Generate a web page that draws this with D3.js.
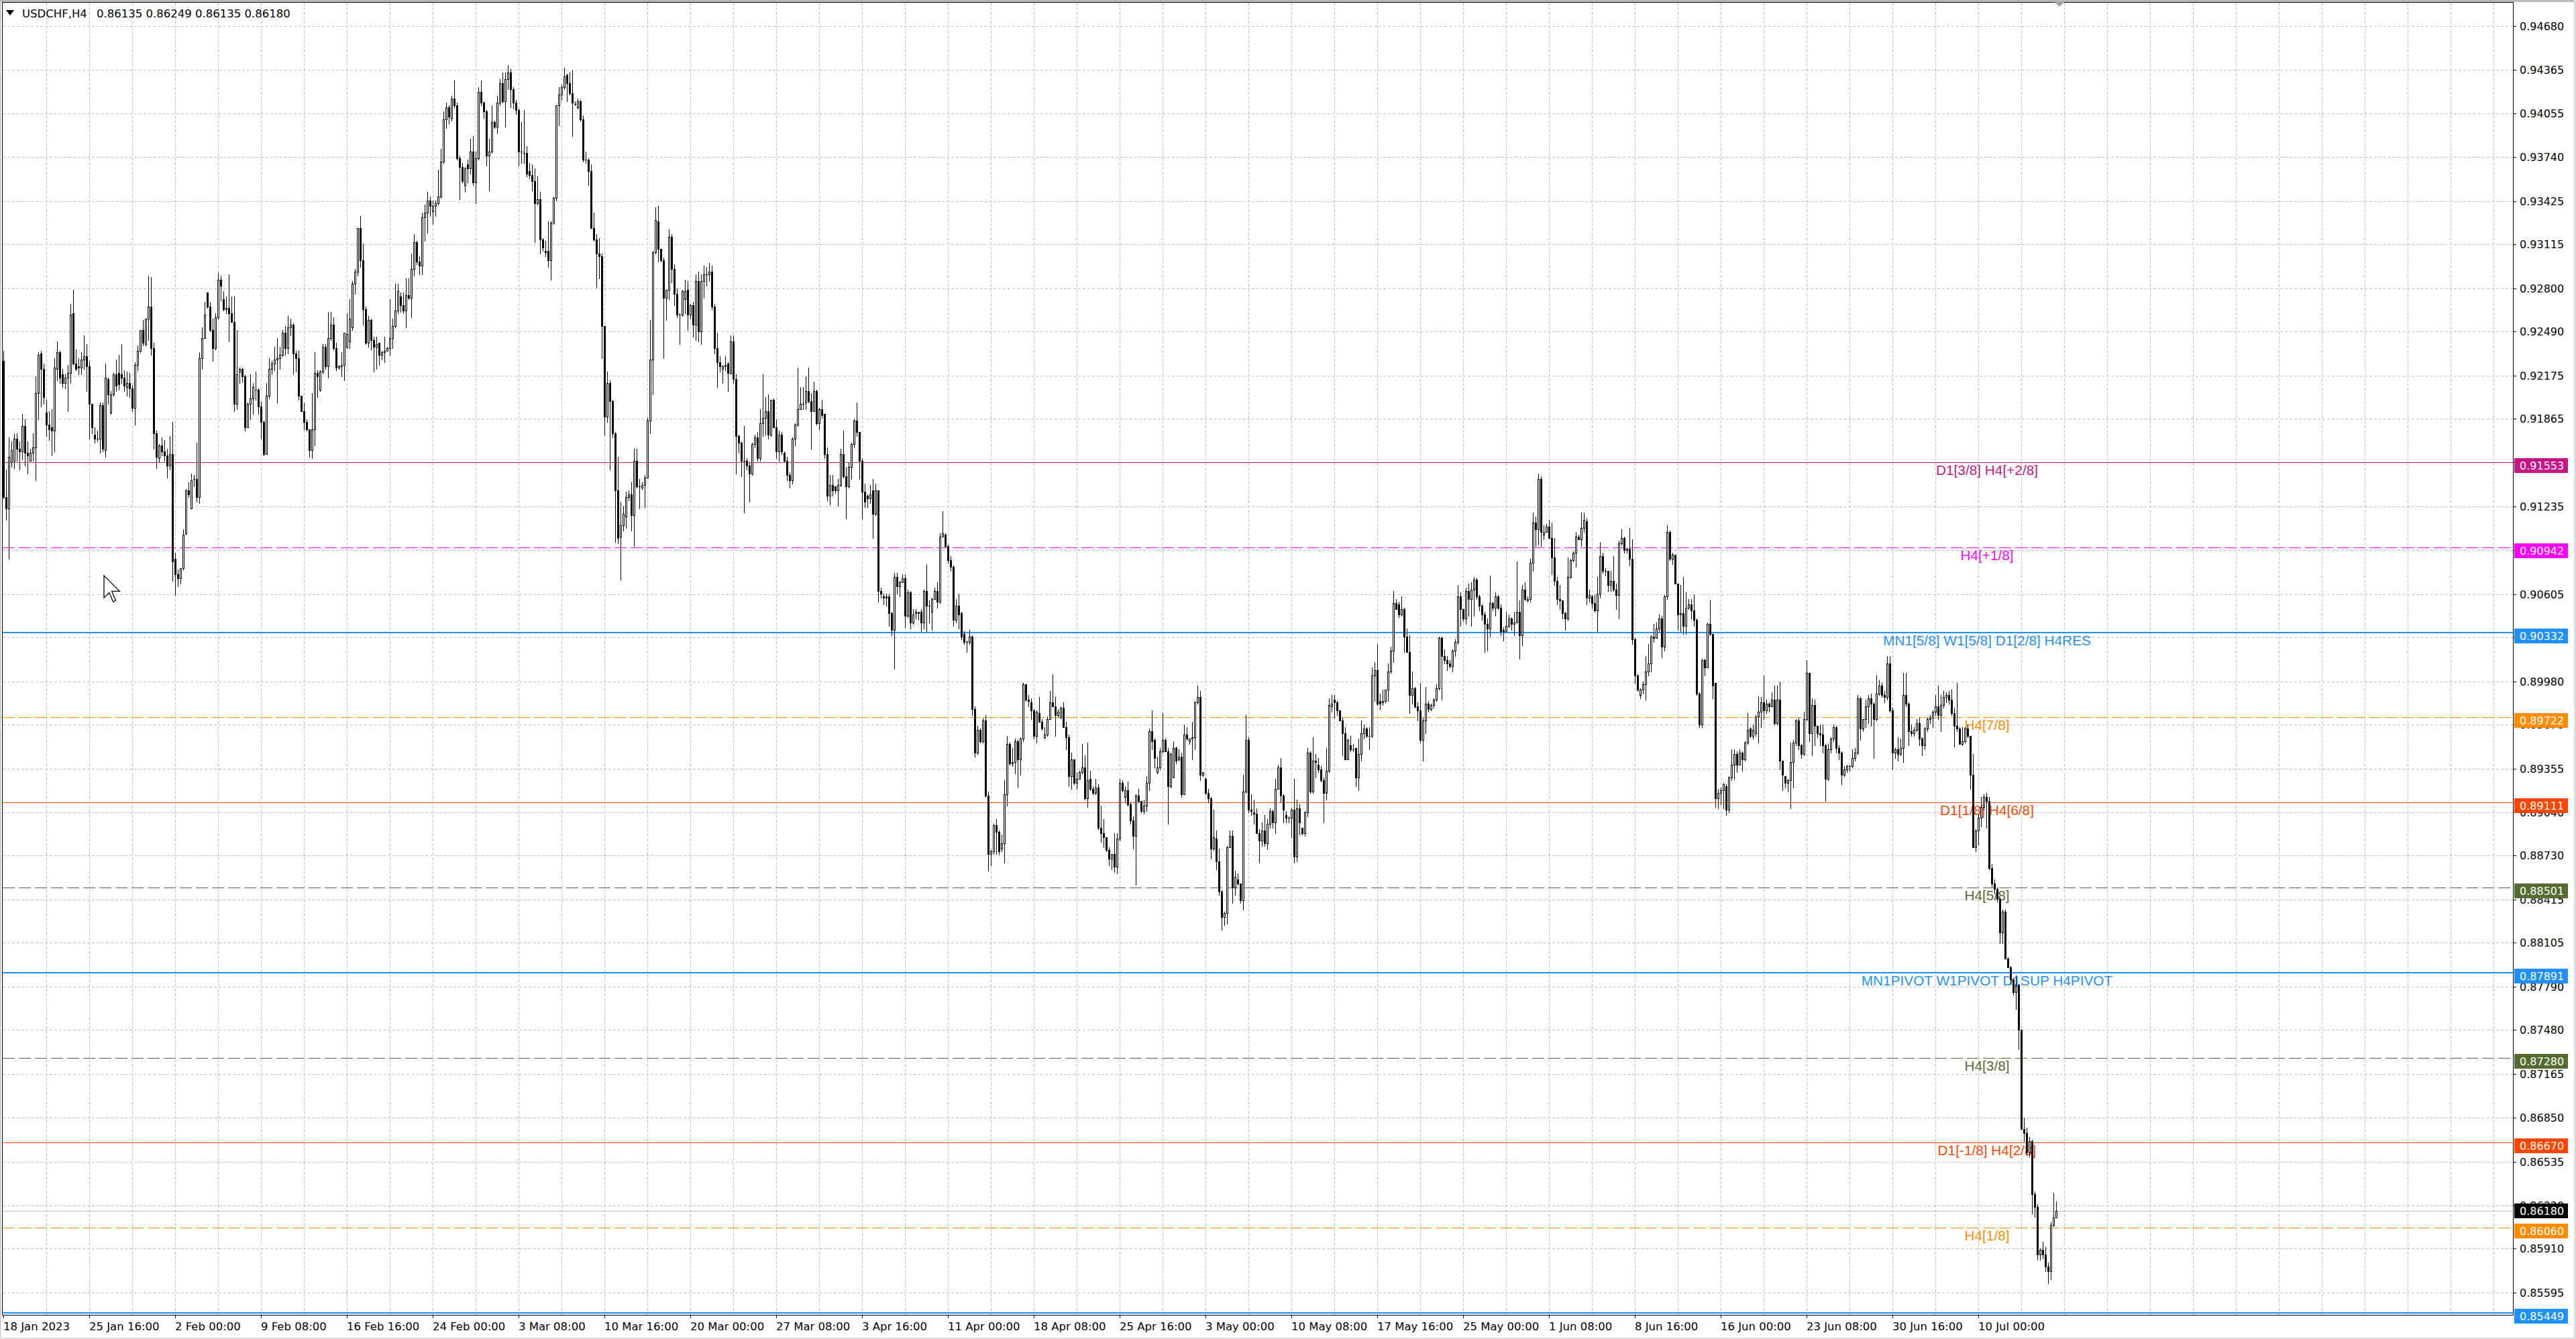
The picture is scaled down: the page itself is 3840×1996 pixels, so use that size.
<!DOCTYPE html>
<html><head><meta charset="utf-8">
<script src="https://cdn.jsdelivr.net/npm/d3@7/dist/d3.min.js"></script>
<style>html,body{margin:0;padding:0;background:#fff;overflow:hidden}</style>
</head><body>
<script>
// ===================== DATA =====================
// USDCHF H4 candles, prices in pips (1 pip = 0.0001 CHF), bar 0 = 18 Jan 2023 08:00
const PIP = 1e-4;
const symbol = "USDCHF,H4";
const headerValues = [0.86135, 0.86249, 0.86135, 0.86180];

const openPips = [
9228,9130,9122,9155,9156,9172,9165,9163,9181,9162,
9156,9162,9166,9205,9233,9222,9191,9182,9180,9178,
9222,9234,9218,9212,9216,9219,9262,9226,9224,9223,
9229,9231,9224,9197,9175,9172,9172,9196,9164,9215,
9191,9204,9218,9219,9218,9216,9209,9212,9208,9194,
9225,9235,9250,9240,9258,9267,9237,9176,9158,9167,
9163,9160,9153,9161,9086,9075,9072,9079,9104,9135,
9122,9143,9143,9130,9230,9244,9277,9267,9250,9237,
9259,9286,9272,9265,9266,9262,9256,9197,9220,9222,
9217,9180,9197,9201,9207,9207,9195,9184,9161,9203,
9222,9226,9229,9230,9232,9248,9237,9252,9254,9233,
9230,9203,9192,9184,9179,9164,9179,9219,9207,9220,
9238,9224,9244,9254,9237,9223,9224,
9225,9238,9242,
9252,9283,9292,9323,9300,9265,9241,9257,9243,9238,
9241,9232,9234,9235,9237,9244,9253,9264,9274,9268,
9264,9275,9273,9294,9313,9299,9296,9331,9334,9343,
9335,9339,9341,9346,9371,9401,9410,9402,9416,9411,
9373,9367,9354,9369,9366,9378,9356,9373,9421,9413,
9407,9375,9378,9399,9396,9413,9427,9414,9430,9435,
9423,9413,9408,9378,9377,9377,9364,9361,9357,9341,
9344,9315,9307,9307,9300,9327,9345,9411,9419,9424,
9433,9427,9420,9412,9410,9414,9401,9372,9372,9364,
9323,9315,9305,9303,9253,9188,9212,9199,9176,9135,
9102,9110,9116,9130,9132,9117,9156,9138,9137,9139,
9144,9185,9229,9306,9328,9308,9300,9273,9279,9317,
9294,9276,9261,9261,9272,
9279,9261,9268,9254,9285,
9249,9285,9290,9290,9292,9267,9237,9227,9222,9224,
9226,9219,9242,9215,9174,9169,9156,9156,9153,9147,
9168,9173,9158,9183,9187,9192,9175,9200,9180,9163,
9175,9162,9156,9146,9142,9172,9182,9193,9197,9198,
9206,9199,9192,9206,9183,9193,9190,9161,9131,9139,
9138,9135,9139,9161,9145,9138,9152,9168,9185,9177,
9156,9134,9131,9129,9135,9118,9135,9063,9059,9058,
9059,9047,9035,9073,9066,9069,9072,9045,9062,9040,
9047,9048,9048,9040,9063,9052,9048,9057,9063,9055,
9102,9103,9095,9085,9080,9042,9052,9047,9032,9026,
9026,9030,8978,8947,8963,8955,8970,8916,8874,8876,
8895,8890,8878,8882,8917,8953,8939,8940,8955,8942,
8957,8996,8985,
8983,8977,8959,8975,8969,8958,8960,
8971,8983,8980,8974,8972,8979,8965,8958,8930,8942,
8925,8928,8933,8936,8914,8928,8921,8918,8922,8893,
8889,8886,8877,8871,8874,8865,8885,8925,8915,8920,
8910,8898,8887,8916,8912,8905,8909,8925,8962,8956,
8933,8936,8948,8956,8948,8923,8929,8950,8942,8944,
8917,8960,8955,8957,8958,8983,8987,8931,8928,8918,
8914,8878,8885,8869,8847,8829,8832,8879,8887,8850,
8856,8853,8841,8919,8956,8906,8904,8903,8889,8884,
8891,8882,8896,8905,8897,8921,8936,8916,8902,8900,
8900,8906,8872,8907,8893,8889,8904,8947,8919,8941,
8938,8935,8927,8918,8934,8980,8985,8983,8977,8970,
8961,8942,8952,8949,8950,8929,8946,8961,8964,8959,
8959,
9002,9006,8984,8983,8984,8992,9005,9020,9054,
9053,9046,9050,9030,9019,8988,8993,8980,8977,8956,
8970,8982,8978,8981,8985,8993,9029,9016,9013,9011,
9009,9020,9026,9059,9050,9043,9063,9057,9064,9071,
9059,9052,9046,9039,9036,9054,9051,9059,9051,9035,
9034,9038,9043,9039,9040,9048,9031,9064,9056,9057,
9083,9112,9107,9143,9103,9105,9109,9101,9087,9070,
9057,9056,9047,9043,9073,9085,9090,9102,9100,9108,
9113,9058,9059,9054,9049,9061,9088,9077,9077,9067,
9070,9064,9060,9097,9101,9092,9093,9086,9028,9002,
8988,8992,8996,9005,9011,9030,9029,9036,9043,9023,
9059,9105,9086,9089,9068,9046,9047,9038,9051,9053,
9049,9042,8989,8967,9013,9008,9039,9032,8997,
8914,8918,8920,8923,8906,8929,8938,8946,8938,8947,8942,
8954,8964,8959,8961,8973,8976,8983,8977,8982,8980,
8985,8968,8985,8941,8930,8925,8927,8940,8954,8970,
8952,8946,8971,9004,8961,8981,8966,8961,8960,8952,
8928,8949,8957,8965,8950,8947,8931,8935,8937,8937,
8943,8947,8986,8964,8971,8980,8986,8982,8971,8989,
8995,8988,8987,9011,8977,8947,8949,8946,8950,8988,
8982,8962,8961,8963,8968,8957,8952,8964,8971,8972,
8976,8980,8974,8981,8987,8988,8985,8975,8966,8964,
8953,8955,8964,8959,8931,8879,8891,8900,8908,8915,
8912,8864,8853,8849,8842,8818,8833,8799,8793,8784,
8775,8780,8748,8677,8674,8660,8668,8630,8621,8587,
8590,8587,8578,8575,8608,8613.5
];

const highPips = [
9235,9150,9173,9170,9176,9176,9170,9190,9186,9170,
9165,9176,9217,9234,9235,9226,9200,9192,9193,9230,
9242,9235,9222,9218,9225,9269,9279,9236,9230,9234,
9246,9240,9228,9197,9180,9178,9198,9198,9226,9216,
9206,9219,9229,9232,9240,9221,9220,9219,9210,9227,
9239,9250,9257,9258,9289,9288,9241,9178,9168,9173,
9171,9165,9174,9184,9090,9078,9079,9107,9136,9141,
9147,9146,9169,9234,9252,9270,9277,9270,9258,9262,
9291,9289,9278,9274,9290,9274,9274,9250,9223,9223,
9218,9198,9218,9212,9220,9208,9199,9185,9212,9230,
9228,9238,9244,9238,9250,9253,9260,9258,9255,9235,
9235,9203,9198,9186,9179,9205,9234,9221,9221,9240,
9240,9263,9263,9259,9241,9225,9234,
9248,9262,9272,
9285,9294,9323,9332,9312,9267,9260,9258,9245,9245,
9241,9235,9245,9238,9272,9258,9283,9283,9277,9277,
9287,9287,9305,9319,9314,9303,9334,9340,9349,9346,
9343,9343,9365,9380,9407,9413,9411,9418,9429,9413,
9375,9370,9367,9372,9387,9389,9378,9424,9429,9414,
9408,9387,9411,9400,9418,9430,9435,9435,9440,9437,
9424,9415,9409,9399,9408,9382,9370,9369,9366,9360,
9349,9316,9314,9328,9328,9346,9411,9424,9426,9438,
9434,9435,9436,9414,9416,9415,9404,9378,9373,9369,
9334,9319,9316,9305,9253,9220,9214,9200,9177,9159,
9127,9124,9134,9135,9141,9165,9165,9143,9141,9146,
9187,9257,9307,9338,9339,9308,9302,9279,9322,9319,
9297,9280,9262,9279,9286,
9285,9269,9270,9290,9292,
9290,9296,9295,9298,9296,9269,9248,9231,9225,9231,
9227,9246,9246,9218,9175,9170,9181,9158,9155,9169,
9175,9177,9193,9218,9202,9204,9200,9201,9186,9178,
9177,9163,9159,9148,9173,9183,9223,9209,9209,9217,
9223,9205,9213,9207,9194,9200,9190,9166,9146,9146,
9138,9143,9165,9178,9152,9155,9169,9186,9198,9177,
9158,9140,9132,9139,9143,9140,9135,9065,9061,9061,
9061,9048,9076,9076,9070,9075,9075,9064,9063,9050,
9050,9048,9050,9064,9082,9056,9058,9065,9069,9104,
9120,9104,9096,9088,9081,9057,9061,9048,9034,9027,
9035,9031,8980,8966,8964,8972,8974,8919,8877,8896,
8899,8891,8888,8927,8959,8954,8950,8957,8956,8958,
8997,8996,8988,
8986,8978,8977,8987,8971,8965,8973,
8991,9003,8987,8978,8980,8983,8969,8960,8947,8942,
8933,8934,8953,8945,8954,8934,8923,8928,8924,8909,
8899,8886,8879,8874,8889,8889,8928,8927,8923,8926,
8911,8901,8917,8921,8912,8913,8930,8964,8977,8957,
8944,8950,8975,8957,8950,8947,8955,8951,8949,8947,
8967,8965,8957,8969,8984,8995,8991,8933,8929,8921,
8915,8906,8891,8878,8848,8833,8880,8891,8891,8862,
8860,8853,8931,8974,8958,8917,8913,8907,8892,8897,
8902,8899,8907,8906,8928,8938,8943,8917,8905,8901,
8907,8928,8913,8910,8893,8905,8950,8948,8958,8946,
8943,8937,8929,8950,8986,8988,8988,8984,8977,8972,
8965,8957,8959,8953,8950,8957,8970,8967,8965,8965,
9008,
9012,9025,8989,8992,8992,9011,9023,9063,9057,
9055,9059,9051,9036,9031,9005,8994,8983,8997,8972,
8994,8984,8982,8986,8996,9030,9030,9021,9016,9013,
9021,9028,9067,9062,9050,9065,9068,9069,9073,9072,
9060,9053,9048,9043,9074,9055,9062,9060,9053,9037,
9048,9046,9044,9048,9084,9056,9067,9069,9059,9086,
9119,9116,9147,9145,9110,9111,9114,9112,9101,9073,
9067,9056,9048,9087,9086,9091,9105,9103,9119,9119,
9115,9064,9060,9060,9073,9098,9090,9079,9077,9077,
9088,9068,9099,9107,9102,9094,9108,9100,9029,9003,
8993,8998,9016,9025,9031,9039,9040,9046,9045,9060,
9110,9106,9090,9089,9068,9067,9073,9062,9057,9057,
9060,9043,8990,9014,9014,9040,9056,9032,8997,
8921,8922,8925,8924,8930,8949,8949,8948,8949,8948,8955,
8975,8965,8967,8974,8987,8987,9002,8985,8983,8990,
8995,8995,8998,8941,8930,8928,8954,8956,8971,8972,
8953,8976,9013,9004,8986,8985,8965,8967,8967,8953,
8953,8958,8967,8966,8952,8948,8937,8938,8938,8949,
8950,8988,8987,8971,8985,8988,8989,8983,9002,8999,
8997,8991,9016,9016,8979,8950,8958,8957,9004,9004,
8983,8967,8965,8971,8972,8958,8965,8972,8974,8977,
8988,8995,8988,8991,8990,8991,8992,8979,8997,8965,
8965,8965,8967,8959,8946,8892,8903,8915,8917,8918,
8915,8867,8856,8850,8843,8834,8834,8800,8794,8785,
8787,8781,8748,8685,8678,8671,8669,8632,8623,8591,
8596,8592,8581,8610,8631,8624.9
];

const lowPips = [
9129,9114,9086,9152,9151,9156,9150,9157,9153,9147,
9156,9156,9142,9186,9195,9197,9174,9171,9160,9163,
9214,9212,9209,9208,9192,9212,9225,9221,9218,9218,
9222,9206,9172,9176,9169,9170,9162,9163,9159,9197,
9190,9203,9206,9207,9212,9206,9203,9202,9192,9182,
9221,9234,9239,9239,9243,9232,9165,9151,9155,9160,
9156,9144,9150,9070,9060,9066,9068,9078,9103,9130,
9122,9138,9127,9126,9222,9244,9266,9249,9228,9236,
9258,9271,9264,9262,9242,9256,9192,9193,9212,9213,
9178,9180,9186,9190,9200,9190,9172,9160,9161,9201,
9218,9221,9198,9222,9231,9232,9233,9246,9218,9220,
9200,9192,9179,9178,9159,9158,9167,9202,9206,9219,
9222,9216,9243,9236,9221,9222,9217,
9214,9237,9237,
9250,9276,9289,9295,9254,9240,9238,9236,9220,9222,
9225,9229,9227,9235,9232,9237,9252,9262,9263,9262,
9252,9272,9259,9289,9297,9290,9290,9314,9320,9332,
9326,9332,9340,9345,9370,9395,9398,9400,9410,9372,
9344,9356,9349,9356,9362,9354,9341,9372,9411,9402,
9368,9350,9377,9395,9391,9411,9413,9396,9423,9410,
9409,9405,9368,9370,9370,9360,9359,9350,9313,9340,
9305,9307,9303,9295,9286,9326,9343,9397,9415,9423,
9414,9419,9389,9411,9409,9400,9371,9370,9354,9323,
9314,9281,9287,9230,9175,9184,9150,9173,9098,9097,
9071,9106,9108,9128,9106,9095,9137,9122,9136,9123,
9144,9176,9204,9305,9299,9299,9230,9257,9272,9284,
9268,9259,9240,9260,9262,
9250,9258,9245,9243,9242,
9240,9273,9282,9285,9265,9233,9209,9220,9212,9221,
9206,9218,9212,9147,9162,9145,9119,9150,9127,9146,
9166,9156,9156,9174,9175,9172,9174,9180,9158,9156,
9161,9155,9142,9137,9140,9167,9181,9193,9193,9193,
9198,9165,9192,9182,9179,9187,9158,9128,9125,9131,
9133,9124,9138,9144,9115,9137,9143,9166,9174,9143,
9115,9123,9123,9126,9101,9117,9055,9058,9053,9052,
9038,9031,9007,9061,9059,9069,9037,9044,9036,9039,
9043,9042,9034,9036,9034,9040,9035,9057,9051,9054,
9102,9094,9083,9077,9038,9040,9036,9028,9025,9019,
9025,8974,8944,8946,8954,8954,8915,8862,8866,8874,
8874,8874,8876,8868,8909,8938,8937,8932,8922,8931,
8955,8984,8980,
8971,8957,8954,8969,8963,8957,8959,
8971,8980,8959,8973,8972,8965,8949,8923,8921,8924,
8921,8928,8932,8913,8908,8920,8917,8917,8892,8883,
8879,8876,8866,8863,8861,8860,8884,8919,8911,8909,
8896,8878,8852,8911,8904,8903,8905,8920,8949,8936,
8932,8935,8947,8948,8896,8922,8929,8939,8941,8915,
8917,8956,8953,8942,8949,8982,8927,8930,8917,8911,
8871,8877,8863,8845,8820,8823,8824,8879,8839,8845,
8852,8839,8834,8918,8904,8902,8896,8889,8868,8880,
8880,8878,8893,8893,8889,8921,8911,8897,8897,8897,
8886,8868,8869,8888,8888,8887,8901,8918,8918,8929,
8933,8926,8897,8913,8933,8976,8972,8974,8970,8945,
8942,8942,8948,8948,8923,8920,8941,8957,8958,8949,
8958,
8984,8981,8978,8981,8983,8984,9004,9012,9050,
9044,9045,9019,9019,8975,8982,8979,8970,8954,8941,
8961,8976,8977,8979,8984,8992,8985,9011,9006,9008,
9005,9016,9025,9038,9041,9039,9045,9038,9045,9057,
9049,9042,9019,9020,9030,9049,9045,9050,9031,9027,
9034,9037,9035,9031,9040,9014,9024,9056,9055,9055,
9077,9095,9096,9095,9100,9105,9101,9075,9067,9053,
9050,9043,9035,9042,9072,9084,9080,9100,9095,9105,
9053,9055,9051,9048,9034,9058,9076,9074,9063,9063,
9063,9050,9043,9096,9090,9090,9081,9025,8997,8991,
8986,8989,8985,9002,9005,9026,9029,9034,9015,9020,
9057,9085,9082,9068,9035,9034,9032,9032,9050,9043,
9038,8988,8965,8965,9002,9008,9031,8986,8908,
8907,8910,8907,8902,8904,8927,8928,8933,8940,8934,8941,
8953,8958,8957,8959,8954,8965,8971,8975,8976,8980,
8967,8967,8935,8920,8922,8919,8907,8922,8952,8949,
8943,8945,8970,8955,8945,8952,8958,8952,8947,8912,
8927,8947,8955,8947,8942,8924,8930,8933,8934,8936,
8941,8946,8956,8962,8965,8968,8966,8943,8970,8988,
8987,8983,8985,8976,8935,8943,8941,8945,8940,8980,
8952,8959,8959,8962,8952,8945,8949,8962,8968,8965,
8974,8971,8962,8979,8983,8982,8974,8951,8962,8953,
8952,8954,8958,8921,8879,8876,8881,8894,8906,8893,
8863,8851,8846,8840,8810,8810,8799,8793,8781,8773,
8763,8734,8677,8668,8658,8657,8616,8614,8583,8583,
8584,8575,8566,8569,8607,8613.5
];

const closePips = [
9130,9122,9159,9164,9172,9165,9163,9181,9162,9160,
9162,9166,9205,9232,9222,9202,9182,9179,9178,9223,
9234,9216,9212,9216,9219,9261,9226,9222,9223,9229,
9231,9224,9197,9180,9172,9172,9196,9165,9216,9204,
9204,9218,9210,9211,9216,9210,9212,9208,9194,9225,
9235,9250,9241,9258,9267,9237,9176,9159,9167,9163,
9160,9153,9161,9084,9075,9072,9079,9103,9135,9132,
9142,9143,9130,9230,9244,9261,9267,9250,9237,9259,
9286,9282,9265,9266,9262,9256,9197,9218,9222,9217,
9180,9197,9201,9209,9207,9195,9184,9161,9203,9222,
9226,9229,9230,9232,9248,9237,9252,9254,9233,9230,
9203,9192,9184,9179,9164,9179,9219,9217,9220,9238,
9224,9244,9254,9237,9223,9224,9225,
9248,9247,9258,
9283,9292,9323,9300,9265,9241,9257,9243,9238,9240,
9232,9234,9235,9237,9244,9253,9264,9278,9268,9264,
9275,9273,9294,9313,9299,9296,9331,9334,9343,9339,
9339,9341,9346,9371,9401,9410,9403,9416,9411,9373,
9367,9357,9366,9366,9378,9356,9373,9421,9413,9407,
9375,9378,9399,9396,9413,9427,9414,9430,9435,9423,
9413,9408,9378,9378,9377,9362,9361,9357,9341,9344,
9315,9309,9306,9300,9327,9345,9411,9419,9424,9432,
9427,9420,9413,9412,9414,9401,9372,9372,9364,9323,
9315,9305,9303,9253,9188,9212,9199,9176,9135,9101,
9110,9118,9130,9132,9117,9156,9138,9138,9139,9144,
9185,9229,9306,9329,9308,9300,9273,9279,9317,9294,
9276,9261,9261,9278,9278,
9261,9268,9254,9285,9249,
9285,9290,9290,9292,9267,9237,9227,9224,9224,9225,
9219,9242,9215,9174,9169,9156,9156,9153,9147,9168,
9173,9158,9183,9187,9192,9175,9200,9180,9163,9175,
9163,9156,9146,9142,9172,9182,9193,9197,9197,9206,
9199,9192,9206,9183,9193,9189,9161,9131,9139,9135,
9135,9139,9161,9145,9138,9152,9168,9185,9177,9156,
9134,9127,9129,9132,9118,9135,9063,9061,9058,9059,
9047,9035,9073,9066,9069,9072,9045,9062,9040,9046,
9048,9047,9040,9063,9052,9052,9057,9063,9055,9102,
9104,9095,9085,9080,9042,9052,9046,9030,9026,9026,
9030,8978,8947,8963,8955,8970,8916,8874,8876,8895,
8890,8876,8882,8917,8953,8939,8940,8955,8942,8957,
8996,8985,8984,
8977,8959,8976,8969,8964,8960,8971,
8983,8980,8974,8976,8979,8965,8958,8930,8942,8925,
8928,8933,8936,8914,8927,8921,8918,8922,8893,8889,
8886,8877,8871,8874,8865,8885,8925,8920,8920,8910,
8898,8887,8916,8912,8905,8909,8925,8962,8955,8943,
8936,8948,8956,8948,8923,8946,8950,8941,8944,8917,
8960,8957,8957,8958,8983,8987,8931,8933,8918,8914,
8878,8886,8869,8847,8829,8832,8879,8887,8850,8858,
8853,8841,8919,8956,8906,8905,8903,8889,8884,8891,
8882,8896,8905,8897,8921,8936,8916,8906,8900,8900,
8906,8872,8907,8897,8889,8904,8947,8919,8941,8940,
8935,8927,8918,8934,8981,8982,8983,8977,8970,8961,
8942,8956,8949,8949,8929,8946,8961,8964,8959,8959,
9002,
9006,8982,8982,8984,8992,9005,9020,9054,9050,
9046,9050,9030,9019,8988,8993,8980,8977,8956,8970,
8982,8978,8981,8985,8993,9029,9016,9013,9011,9009,
9020,9026,9059,9050,9043,9063,9057,9064,9071,9059,
9052,9046,9039,9036,9054,9051,9059,9051,9034,9034,
9038,9043,9039,9040,9048,9031,9064,9057,9057,9083,
9112,9107,9143,9105,9105,9109,9101,9087,9070,9057,
9056,9047,9043,9073,9085,9090,9102,9100,9108,9114,
9058,9060,9054,9049,9061,9088,9077,9077,9067,9070,
9064,9060,9097,9101,9092,9093,9086,9028,9002,8992,
8992,8996,9005,9011,9030,9029,9036,9043,9023,9059,
9105,9086,9089,9068,9046,9047,9038,9051,9053,9049,
9042,8989,8967,9013,9008,9039,9032,8995,8914,
8918,8920,8924,8906,8929,8938,8946,8938,8947,8942,8954,
8963,8959,8963,8973,8976,8983,8977,8982,8980,8985,
8968,8985,8941,8931,8925,8927,8940,8954,8970,8952,
8946,8971,9004,8961,8981,8966,8961,8960,8952,8928,
8949,8957,8965,8950,8947,8931,8935,8937,8937,8943,
8947,8986,8964,8971,8980,8986,8982,8971,8989,8995,
8988,8987,9011,8977,8947,8949,8946,8950,8988,8982,
8962,8961,8963,8968,8957,8952,8964,8971,8972,8976,
8980,8974,8981,8987,8988,8985,8975,8966,8964,8953,
8955,8964,8959,8931,8879,8891,8900,8908,8915,8912,
8864,8853,8849,8842,8818,8833,8799,8793,8784,8775,
8780,8748,8677,8674,8660,8668,8630,8621,8587,8590,
8587,8578,8575,8608,8613.5,8618
];

// time-axis labels and the bar index they mark
const timeLabels = ["18 Jan 2023","25 Jan 16:00","2 Feb 00:00","9 Feb 08:00","16 Feb 16:00","24 Feb 00:00",
  "3 Mar 08:00","10 Mar 16:00","20 Mar 00:00","27 Mar 08:00","3 Apr 16:00","11 Apr 00:00","18 Apr 08:00",
  "25 Apr 16:00","3 May 00:00","10 May 08:00","17 May 16:00","25 May 00:00","1 Jun 08:00","8 Jun 16:00",
  "16 Jun 00:00","23 Jun 08:00","30 Jun 16:00","10 Jul 00:00"];
const timeLabelBars = [0,32,64,96,128,160,192,224,256,288,320,352,384,416,448,480,512,544,576,608,640,672,704,736];

// price axis tick labels
const priceTicks = [0.94680,0.94365,0.94055,0.93740,0.93425,0.93115,0.92800,0.92490,0.92175,0.91865,
  0.91550,0.91235,0.90920,0.90605,0.90295,0.89980,0.89670,0.89355,0.89040,0.88730,0.88415,0.88105,
  0.87790,0.87480,0.87165,0.86850,0.86535,0.86220,0.85910,0.85595];

// Murrey / pivot levels
const levelPrices = [0.91553,0.90942,0.90332,0.89722,0.89111,0.88501,0.87891,0.87280,0.86670,0.86060,0.85449];
const levelNames = ["D1[3/8] H4[+2/8]","H4[+1/8]","MN1[5/8] W1[5/8] D1[2/8] H4RES","H4[7/8]","D1[1/8] H4[6/8]",
  "H4[5/8]","MN1PIVOT W1PIVOT D1SUP H4PIVOT","H4[3/8]","D1[-1/8] H4[2/8]","H4[1/8]",""];
const bidPrice = 0.86180;

// ===================== STYLES / LAYOUT =====================
const levelStyle = {
  "D1[3/8] H4[+2/8]": {c:"#C71585", dash:false, w:1},
  "H4[+1/8]": {c:"#FF00FF", dash:true, w:1},
  "MN1[5/8] W1[5/8] D1[2/8] H4RES": {c:"#1E90FF", dash:false, w:2},
  "H4[7/8]": {c:"#FF8C00", dash:true, w:1},
  "D1[1/8] H4[6/8]": {c:"#FF4500", dash:false, w:1},
  "H4[5/8]": {c:"#556B2F", dash:true, w:1},
  "MN1PIVOT W1PIVOT D1SUP H4PIVOT": {c:"#1E90FF", dash:false, w:2},
  "H4[3/8]": {c:"#556B2F", dash:true, w:1},
  "D1[-1/8] H4[2/8]": {c:"#FF4500", dash:false, w:1},
  "H4[1/8]": {c:"#FF8C00", dash:true, w:1},
  "": {c:"#1E90FF", dash:false, w:2}
};
const W = 3840, H = 1996;
const plot = {left:4, right:3747, top:4, bottom:1961};
const AXIS_FONT = "Tahoma, 'DejaVu Sans', sans-serif";
const LABEL_FONT = "Arial, 'Liberation Sans', sans-serif";
const levelLabelBar = 739.25;

const xScale = d3.scaleLinear().domain([0, 935]).range([5, 5 + 935*4]);
const yScale = d3.scaleLinear().domain([0.85449, 0.94680]).range([1957.2, 39]);
const fmt = d3.format(".5f");

const svg = d3.select("body").append("svg")
  .attr("width", W).attr("height", H).style("display","block")
  .attr("font-family", AXIS_FONT);

svg.append("rect").attr("width", W).attr("height", H).attr("fill", "#ffffff");
// window frame
svg.append("rect").attr("x",0).attr("y",0).attr("width",W).attr("height",3).attr("fill","#b9b9b9");
svg.append("rect").attr("x",0).attr("y",0).attr("width",1).attr("height",H).attr("fill","#b9b9b9");
svg.append("rect").attr("x",W-3).attr("y",0).attr("width",3).attr("height",H).attr("fill","#dcdcdc");
svg.append("rect").attr("x",0).attr("y",H-2).attr("width",W).attr("height",2).attr("fill","#dcdcdc");

const defs = svg.append("defs");
defs.append("clipPath").attr("id","plotClip").append("rect")
  .attr("x", plot.left).attr("y", plot.top)
  .attr("width", plot.right - plot.left).attr("height", plot.bottom - plot.top);

// ---- grid ----
const grid = svg.append("g").attr("stroke","#c0c0c0").attr("stroke-width",1)
  .attr("stroke-dasharray","4,3").attr("shape-rendering","crispEdges");
priceTicks.forEach(p => {
  const y = Math.round(yScale(p)) + 0.5;
  grid.append("line").attr("x1", plot.left).attr("x2", plot.right).attr("y1", y).attr("y2", y);
});
d3.range(16, 936, 16).forEach(b => {
  const x = Math.round(xScale(b)) + 0.5;
  if (x < plot.right) grid.append("line").attr("x1", x).attr("x2", x).attr("y1", plot.top).attr("y2", plot.bottom);
});

// ---- level lines ----
const lv = svg.append("g").attr("clip-path","url(#plotClip)").attr("shape-rendering","crispEdges");
levelPrices.forEach((p, i) => {
  const st = levelStyle[levelNames[i]];
  const y = st.w === 2 ? Math.round(yScale(p)) : Math.round(yScale(p)) + 0.5;
  lv.append("line").attr("x1", plot.left).attr("x2", plot.right).attr("y1", y).attr("y2", y)
    .attr("stroke", st.c).attr("stroke-width", st.w)
    .attr("stroke-dasharray", st.dash ? "18,6" : null);
});
{
  const y = Math.round(yScale(bidPrice)) + 0.5;
  lv.append("line").attr("x1", plot.left).attr("x2", plot.right).attr("y1", y).attr("y2", y)
    .attr("stroke", "#c0c0c0").attr("stroke-width", 1);
}

// ---- level text labels ----
const lt = svg.append("g").attr("font-family", LABEL_FONT).attr("font-size", 20.8).attr("text-anchor","middle");
levelPrices.forEach((p, i) => {
  if (!levelNames[i]) return;
  lt.append("text").attr("x", xScale(levelLabelBar)).attr("y", Math.round(yScale(p)) + 18.5)
    .attr("fill", levelStyle[levelNames[i]].c).text(levelNames[i]);
});

// ---- candles ----
const cg = svg.append("g").attr("clip-path","url(#plotClip)").attr("shape-rendering","crispEdges");
const bars = closePips.map((c, i) => ({i, o: openPips[i]*PIP, h: highPips[i]*PIP, l: lowPips[i]*PIP, c: c*PIP}));
bars.forEach(d => {
  const cx = Math.round(xScale(d.i));
  const hi = Math.max(d.h, d.o, d.c), lo = Math.min(d.l, d.o, d.c);
  const yh = Math.round(yScale(hi)), yl = Math.round(yScale(lo));
  cg.append("line").attr("x1", cx + 0.5).attr("x2", cx + 0.5).attr("y1", yh).attr("y2", yl + 1)
    .attr("stroke", "#000").attr("stroke-width", 1);
  const yo = Math.round(yScale(d.o)), yc = Math.round(yScale(d.c));
  const top = Math.min(yo, yc), bot = Math.max(yo, yc);
  if (bot - top < 1) {
    cg.append("rect").attr("x", cx - 1).attr("y", top).attr("width", 3).attr("height", 1).attr("fill", "#000");
  } else if (d.c > d.o) {
    cg.append("rect").attr("x", cx - 0.5).attr("y", top + 0.5).attr("width", 2).attr("height", bot - top)
      .attr("fill", "#fff").attr("stroke", "#000").attr("stroke-width", 1);
  } else {
    cg.append("rect").attr("x", cx - 1).attr("y", top).attr("width", 3).attr("height", bot - top + 1)
      .attr("fill", "#000");
  }
});

// ---- plot border ----
svg.append("rect").attr("x", plot.left - 0.5).attr("y", plot.top - 0.5)
  .attr("width", plot.right - plot.left).attr("height", plot.bottom - plot.top)
  .attr("fill", "none").attr("stroke", "#000").attr("stroke-width", 1).attr("shape-rendering","crispEdges");

// chart shift marker
svg.append("path")
  .attr("d", d3.line()([[xScale(766) - 6, plot.top - 1], [xScale(766) + 8, plot.top - 1], [xScale(766) + 1, plot.top + 6]]) + "Z")
  .attr("fill", "#a0a0a0");

// ---- price axis ----
const pa = svg.append("g").attr("font-size", 16).attr("fill", "#000");
priceTicks.forEach(p => {
  const y = Math.round(yScale(p)) + 0.5;
  pa.append("line").attr("x1", plot.right).attr("x2", plot.right + 4).attr("y1", y).attr("y2", y)
    .attr("stroke", "#000").attr("shape-rendering","crispEdges");
  pa.append("text").attr("x", 3756).attr("y", yScale(p) + 6).text(fmt(p));
});

// ---- time axis ----
const ta = svg.append("g").attr("font-size", 16.5).attr("fill", "#000");
timeLabelBars.forEach((b, k) => {
  const x = Math.round(xScale(b)) + 0.5;
  ta.append("line").attr("x1", x).attr("x2", x).attr("y1", plot.bottom).attr("y2", plot.bottom + 4)
    .attr("stroke", "#000").attr("shape-rendering","crispEdges");
  ta.append("text").attr("x", Math.round(xScale(b))).attr("y", 1983).text(timeLabels[k]);
});

// ---- price boxes ----
const pb = svg.append("g").attr("font-size", 16);
levelPrices.forEach((p, i) => {
  const top = Math.round(yScale(p)) - 6;
  pb.append("rect").attr("x", 3748).attr("y", top).attr("width", 80).attr("height", 22)
    .attr("fill", levelStyle[levelNames[i]].c);
  pb.append("text").attr("x", 3756).attr("y", top + 17).attr("fill", "#fff").text(fmt(p));
});
{
  const top = Math.round(yScale(bidPrice)) - 11;
  pb.append("rect").attr("x", 3748).attr("y", top).attr("width", 80).attr("height", 22).attr("fill", "#000");
  pb.append("text").attr("x", 3756).attr("y", top + 17).attr("fill", "#fff").text(fmt(bidPrice));
}

// ---- header ----
svg.append("path").attr("d", "M9,15L21,15L15,23Z").attr("fill", "#000");
svg.append("text").attr("x", 33).attr("y", 26).attr("font-size", 16.5).attr("fill", "#000").text(symbol);
svg.append("text").attr("x", 144).attr("y", 26).attr("font-size", 16.5).attr("fill", "#000")
  .text(headerValues.map(fmt).join(" "));

// ---- mouse cursor ----
const cur = [[0,0],[0,17],[4,13],[7,20],[9,19],[6,12],[12,12]].map(([a,b]) => [155 + a*1.95, 858 + b*1.95]);
svg.append("path").attr("d", d3.line()(cur) + "Z").attr("fill", "#fff").attr("stroke", "#000").attr("stroke-width", 1.3);
</script>
</body></html>
